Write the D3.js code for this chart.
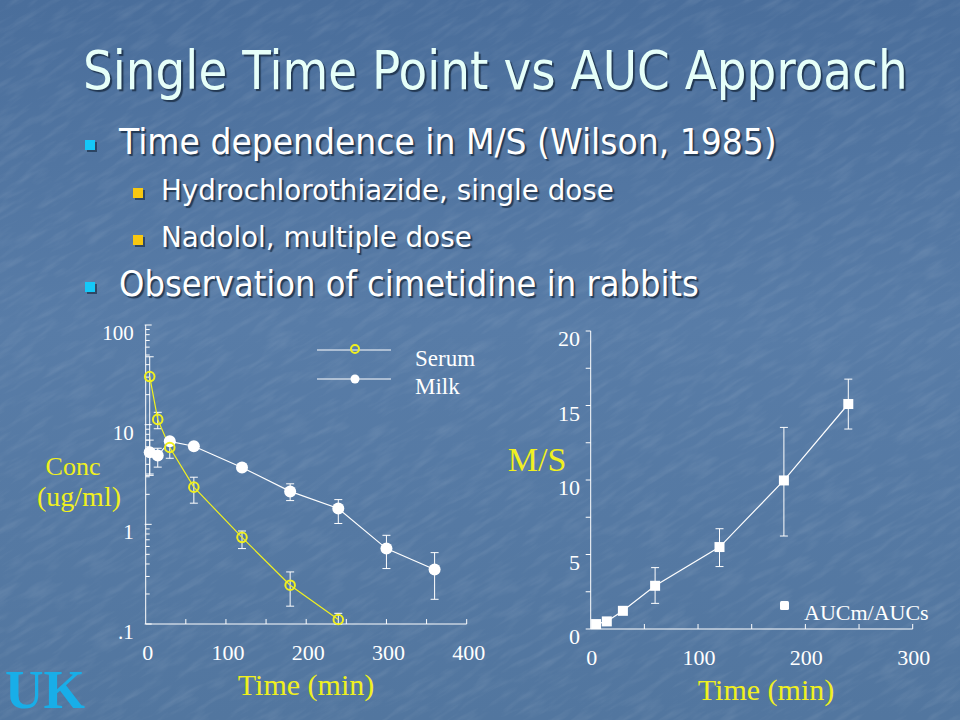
<!DOCTYPE html>
<html>
<head>
<meta charset="utf-8">
<script src="https://cdn.jsdelivr.net/npm/d3@7/dist/d3.min.js"></script>
<style>
  html, body { margin: 0; padding: 0; background: #5479a4; }
  svg { display: block; }
  .shadowed { text-shadow: 2px 2px 1px rgba(19, 36, 58, 0.75); }
</style>
</head>
<body>
<div id="slide"></div>
<script>
// ---- data ----
const serumTime = [5, 15, 30, 60, 120, 180, 240];
const serumConc = [30.4, 11.3, 5.9, 2.36, 0.74, 0.245, 0.111];
const serumHi   = [48, 13.3, 7.0, 2.97, 0.857, 0.333, 0.128];
const serumLo   = [3.2, 9.1, 4.6, 1.63, 0.571, 0.151, 0.1];

const milkTime = [5, 15, 30, 60, 120, 180, 240, 300, 360];
const milkConc = [5.29, 4.9, 6.8, 6.07, 3.72, 2.14, 1.44, 0.571, 0.352];
const milkHi   = [7.0, 5.8, 7.3, null, null, 2.55, 1.77, 0.776, 0.52];
const milkLo   = [3.1, 3.75, 6.3, null, null, 1.73, 1.02, 0.36, 0.177];

const msTime = [5, 15, 30, 60, 120, 180, 240];
const msRatio = [0.33, 0.51, 1.22, 2.9, 5.5, 9.97, 15.1];
const msHi    = [null, null, null, 4.12, 6.73, 13.53, 16.77];
const msLo    = [null, null, null, 1.72, 4.19, 6.24, 13.42];

const logTicks = [0.1, 1, 10, 100];
const logTickLabels = [".1", "1", "10", "100"];
const concTimeTicks = [0, 100, 200, 300, 400];
const msTimeTicks = [0, 100, 200, 300];
const msTicks = [0, 5, 10, 15, 20];

const title = "Single Time Point vs AUC Approach";
const bullets = [
  { level: 1, text: "Time dependence in M/S (Wilson, 1985)" },
  { level: 2, text: "Hydrochlorothiazide, single dose" },
  { level: 2, text: "Nadolol, multiple dose" },
  { level: 1, text: "Observation of cimetidine in rabbits" }
];

const [width, height] = [960, 720];
const serif = "'Liberation Serif', 'Times New Roman', serif";
const sans = "'DejaVu Sans', Verdana, sans-serif";
const yellow = "#f0f020";

const svg = d3.select("#slide").append("svg")
  .attr("width", width)
  .attr("height", height);

// ---- background ----
const defs = svg.append("defs");
const grad = defs.append("linearGradient").attr("id", "bg")
  .attr("x1", 0).attr("y1", 0).attr("x2", 0).attr("y2", 1);
grad.append("stop").attr("offset", "0%").attr("stop-color", "#4a6e9b");
grad.append("stop").attr("offset", "45%").attr("stop-color", "#587ca7");
grad.append("stop").attr("offset", "100%").attr("stop-color", "#52769f");

const noise = defs.append("filter").attr("id", "grain")
  .attr("x", 0).attr("y", 0).attr("width", "100%").attr("height", "100%");
noise.append("feTurbulence")
  .attr("type", "fractalNoise")
  .attr("baseFrequency", "0.03 0.15")
  .attr("numOctaves", 3)
  .attr("seed", 7);
noise.append("feColorMatrix")
  .attr("values", "0 0 0 0 1  0 0 0 0 1  0 0 0 0 1  0 0 0 0.9 -0.4");

svg.append("rect").attr("width", width).attr("height", height).attr("fill", "url(#bg)");
svg.append("g").attr("transform", "rotate(-30 480 360)")
  .append("rect")
  .attr("x", -300).attr("y", -300).attr("width", 1560).attr("height", 1320)
  .attr("filter", "url(#grain)")
  .attr("opacity", 0.2);

// slide text: measured, then squeezed horizontally to the width seen on the slide
function slideText(x, y, size, targetW, fill, str) {
  const t = svg.append("text")
    .attr("class", "shadowed")
    .attr("x", 0).attr("y", 0)
    .attr("font-family", sans).attr("font-size", size)
    .attr("fill", fill)
    .text(str);
  const w = t.node().getComputedTextLength();
  t.attr("transform", `translate(${x},${y}) scale(${targetW / w},1)`);
}

// ---- title + bullets ----
slideText(83, 89, 53, 825, "#e6fff9", title);

const bulletY = [154, 200, 247, 296];
const bulletEnd = [777, 614, 472, 699];
bullets.forEach((b, i) => {
  const lvl1 = b.level === 1;
  const bx = lvl1 ? 85 : 133;
  const by = bulletY[i] - (lvl1 ? 14 : 12);
  svg.append("rect").attr("x", bx + 2).attr("y", by + 2)
    .attr("width", 10).attr("height", 10).attr("fill", "#13243a").attr("opacity", 0.6);
  svg.append("rect").attr("x", bx).attr("y", by)
    .attr("width", 10).attr("height", 10)
    .attr("fill", lvl1 ? "#14c8f8" : "#f8c810");
  const x0 = lvl1 ? 119 : 161;
  slideText(x0, bulletY[i], lvl1 ? 35 : 29, bulletEnd[i] - x0, "#ffffff", b.text);
});

// ---- left chart: concentration (log) ----
const xC = d3.scaleLinear().domain([0, 400]).range([145.7, 466.7]);
const yC = d3.scaleLog().domain([0.1, 100]).range([624, 325]);

const left = svg.append("g").attr("stroke", "#fff").attr("fill", "none");
left.append("line")
  .attr("x1", xC(0)).attr("x2", xC(0)).attr("y1", yC(0.1)).attr("y2", yC(100));
left.append("line")
  .attr("x1", xC(0)).attr("x2", xC(400)).attr("y1", yC(0.1)).attr("y2", yC(0.1));

// log minor + major ticks, pointing inward
const minor = [];
[0.1, 1, 10].forEach(d => { for (let k = 2; k <= 9; k++) minor.push(d * k); });
left.selectAll(".ymin").data(minor).enter().append("line")
  .attr("x1", xC(0)).attr("x2", xC(0) + 4)
  .attr("y1", d => yC(d)).attr("y2", d => yC(d));
left.selectAll(".ymaj").data(logTicks).enter().append("line")
  .attr("x1", xC(0) - 1).attr("x2", xC(0) + 6)
  .attr("y1", d => yC(d)).attr("y2", d => yC(d));
left.selectAll(".xt").data(d3.range(50, 401, 50)).enter().append("line")
  .attr("x1", d => xC(d)).attr("x2", d => xC(d))
  .attr("y1", yC(0.1)).attr("y2", yC(0.1) - 5);

svg.selectAll(".ylab").data(logTicks).enter().append("text")
  .attr("x", xC(0) - 12).attr("y", d => yC(d) + 15)
  .attr("text-anchor", "end")
  .attr("font-family", serif).attr("font-size", 21).attr("fill", "#fff")
  .text((d, i) => logTickLabels[i]);
svg.selectAll(".xlab").data(concTimeTicks).enter().append("text")
  .attr("x", d => xC(d) + 2).attr("y", yC(0.1) + 36)
  .attr("text-anchor", "middle")
  .attr("font-family", serif).attr("font-size", 22).attr("fill", "#fff")
  .text(d => d);

svg.append("text").attr("x", 306).attr("y", 695)
  .attr("text-anchor", "middle")
  .attr("font-family", serif).attr("font-size", 30).attr("fill", yellow)
  .text("Time (min)");
svg.append("text").attr("x", 73).attr("y", 475)
  .attr("text-anchor", "middle")
  .attr("font-family", serif).attr("font-size", 26).attr("fill", yellow)
  .text("Conc");
svg.append("text").attr("x", 79).attr("y", 506)
  .attr("text-anchor", "middle")
  .attr("font-family", serif).attr("font-size", 28).attr("fill", yellow)
  .text("(ug/ml)");

function errorBars(g, xs, lo, hi, x, y, cap) {
  xs.forEach((t, i) => {
    if (lo[i] == null) return;
    const cx = x(t);
    g.append("line").attr("x1", cx).attr("x2", cx).attr("y1", y(lo[i])).attr("y2", y(hi[i]));
    g.append("line").attr("x1", cx - cap).attr("x2", cx + cap).attr("y1", y(lo[i])).attr("y2", y(lo[i]));
    g.append("line").attr("x1", cx - cap).attr("x2", cx + cap).attr("y1", y(hi[i])).attr("y2", y(hi[i]));
  });
}

const bars = svg.append("g").attr("stroke", "#fff").attr("stroke-width", 1);
errorBars(bars, serumTime, serumLo, serumHi, xC, yC, 4);
errorBars(bars, milkTime, milkLo, milkHi, xC, yC, 4);

const lineC = (ts, vs) => d3.line().x((d, i) => xC(ts[i])).y(d => yC(d))(vs);
svg.append("path").attr("d", lineC(milkTime, milkConc))
  .attr("fill", "none").attr("stroke", "#fff").attr("stroke-width", 1.2);
svg.append("path").attr("d", lineC(serumTime, serumConc))
  .attr("fill", "none").attr("stroke", yellow).attr("stroke-width", 1.2);

svg.selectAll(".milk").data(milkConc).enter().append("circle")
  .attr("cx", (d, i) => xC(milkTime[i])).attr("cy", d => yC(d))
  .attr("r", 6).attr("fill", "#fff");
svg.selectAll(".serum").data(serumConc).enter().append("circle")
  .attr("cx", (d, i) => xC(serumTime[i])).attr("cy", d => yC(d))
  .attr("r", 4.8).attr("fill", "none").attr("stroke", yellow).attr("stroke-width", 2);

// legend
const leg = svg.append("g");
leg.append("line").attr("x1", 317).attr("x2", 391).attr("y1", 350).attr("y2", 350)
  .attr("stroke", "#fff");
leg.append("circle").attr("cx", 355).attr("cy", 349).attr("r", 4)
  .attr("fill", "none").attr("stroke", yellow).attr("stroke-width", 2);
leg.append("line").attr("x1", 317).attr("x2", 391).attr("y1", 379).attr("y2", 379)
  .attr("stroke", "#fff");
leg.append("circle").attr("cx", 355).attr("cy", 379).attr("r", 4.5).attr("fill", "#fff");
leg.append("text").attr("x", 415).attr("y", 366)
  .attr("font-family", serif).attr("font-size", 23).attr("fill", "#fff").text("Serum");
leg.append("text").attr("x", 415).attr("y", 394)
  .attr("font-family", serif).attr("font-size", 23).attr("fill", "#fff").text("Milk");

// ---- right chart: M/S ----
const xM = d3.scaleLinear().domain([0, 300]).range([590.7, 912.7]);
const yM = d3.scaleLinear().domain([0, 20]).range([629, 331]);

const right = svg.append("g").attr("stroke", "#fff");
right.append("line")
  .attr("x1", xM(0)).attr("x2", xM(0)).attr("y1", yM(0)).attr("y2", yM(20));
right.append("line")
  .attr("x1", xM(0)).attr("x2", xM(300)).attr("y1", yM(0)).attr("y2", yM(0));
right.selectAll(".yt").data(d3.range(0, 20.1, 2.5)).enter().append("line")
  .attr("x1", xM(0) - 5).attr("x2", xM(0))
  .attr("y1", d => yM(d)).attr("y2", d => yM(d));
right.selectAll(".xt").data(d3.range(50, 301, 50)).enter().append("line")
  .attr("x1", d => xM(d)).attr("x2", d => xM(d))
  .attr("y1", yM(0)).attr("y2", yM(0) - 5);

svg.selectAll(".mylab").data(msTicks).enter().append("text")
  .attr("x", 580).attr("y", d => yM(d) + 15)
  .attr("text-anchor", "end")
  .attr("font-family", serif).attr("font-size", 22).attr("fill", "#fff")
  .text(d => d);
svg.selectAll(".mxlab").data(msTimeTicks).enter().append("text")
  .attr("x", d => xM(d) + 1).attr("y", yM(0) + 36)
  .attr("text-anchor", "middle")
  .attr("font-family", serif).attr("font-size", 22).attr("fill", "#fff")
  .text(d => d);

svg.append("text").attr("x", 766).attr("y", 700)
  .attr("text-anchor", "middle")
  .attr("font-family", serif).attr("font-size", 30).attr("fill", yellow)
  .text("Time (min)");
svg.append("text").attr("x", 537).attr("y", 471)
  .attr("text-anchor", "middle")
  .attr("font-family", serif).attr("font-size", 34).attr("fill", yellow)
  .text("M/S");

const bars2 = svg.append("g").attr("stroke", "#fff").attr("stroke-width", 1);
errorBars(bars2, msTime, msLo, msHi, xM, yM, 4);

svg.append("path")
  .attr("d", d3.line().x((d, i) => xM(msTime[i])).y(d => yM(d))(msRatio))
  .attr("fill", "none").attr("stroke", "#fff").attr("stroke-width", 1.2);
svg.selectAll(".sq").data(msRatio).enter().append("rect")
  .attr("x", (d, i) => xM(msTime[i]) - 5).attr("y", d => yM(d) - 5)
  .attr("width", 10).attr("height", 10).attr("fill", "#fff");

svg.append("rect").attr("x", 780).attr("y", 601).attr("width", 9).attr("height", 9)
  .attr("rx", 1.5).attr("fill", "#fff");
svg.append("text").attr("x", 804).attr("y", 620)
  .attr("font-family", serif).attr("font-size", 22).attr("fill", "#fff")
  .text("AUCm/AUCs");

// ---- logo ----
svg.append("text").attr("x", 5).attr("y", 708)
  .attr("font-family", serif).attr("font-weight", "bold").attr("font-size", 55)
  .attr("textLength", 80).attr("lengthAdjust", "spacingAndGlyphs")
  .attr("fill", "#18aee8")
  .text("UK");
</script>
</body>
</html>
